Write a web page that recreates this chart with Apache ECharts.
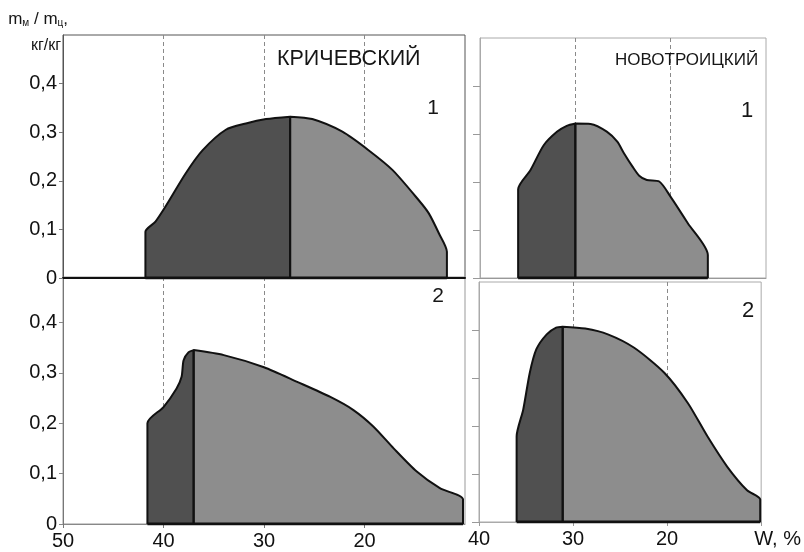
<!DOCTYPE html>
<html>
<head>
<meta charset="utf-8">
<script src="https://cdn.jsdelivr.net/npm/echarts@6/dist/echarts.min.js"></script>
<style>
  html, body { margin: 0; padding: 0; background: #fff; }
  #chart { width: 804px; height: 552px; }
</style>
</head>
<body>
<div id="chart"></div>
<script>
// Moisture W, % (x) versus m_м / m_ц ratio (y); each profile is split into a
// dark (left) part and a light (right) part at the peak.

// Кричевский, curve 1
const krich1Dark = [[41.8, 0], [41.8, 0.095], [40.8, 0.116], [39.8, 0.147], [37.8, 0.215], [36.1, 0.263],
  [33.8, 0.305], [31.8, 0.318], [29.8, 0.327], [27.4, 0.332], [27.4, 0]];
const krich1Light = [[27.4, 0], [27.4, 0.332], [25.2, 0.327], [22.2, 0.301], [19.6, 0.263], [17.2, 0.222],
  [14.6, 0.160], [13.6, 0.133], [12.6, 0.092], [11.8, 0.054], [11.8, 0]];

// Кричевский, curve 2
const krich2Dark = [[41.6, 0], [41.6, 0.200], [40.0, 0.232], [38.7, 0.269], [38.2, 0.292], [38.0, 0.325],
  [37.5, 0.341], [37.0, 0.345], [37.0, 0]];
const krich2Light = [[37.0, 0], [37.0, 0.345], [34.0, 0.335], [30.0, 0.311], [26.7, 0.282], [23.4, 0.252],
  [21.1, 0.226], [19.1, 0.193], [17.1, 0.150], [14.8, 0.104], [12.5, 0.071], [10.2, 0.049], [10.2, 0]];

// Новотроицкий, curve 1
const novo1Dark = [[36.0, 0], [36.0, 0.185], [34.7, 0.225], [33.3, 0.277], [31.9, 0.305], [30.9, 0.317],
  [30.0, 0.322], [30.0, 0]];
const novo1Light = [[30.0, 0], [30.0, 0.322], [28.4, 0.321], [26.7, 0.305], [25.6, 0.284], [24.9, 0.260],
  [24.0, 0.232], [23.3, 0.213], [22.5, 0.204], [21.2, 0.201], [20.0, 0.169], [18.2, 0.114], [16.1, 0.048], [16.1, 0]];

// Новотроицкий, curve 2
const novo2Dark = [[36.0, 0], [36.0, 0.178], [35.3, 0.234], [34.6, 0.311], [33.9, 0.360], [32.8, 0.391],
  [31.8, 0.405], [31.1, 0.407], [31.1, 0]];
const novo2Light = [[31.1, 0], [31.1, 0.407], [28.7, 0.403], [26.3, 0.391], [23.5, 0.363], [20.3, 0.311],
  [17.8, 0.248], [15.7, 0.178], [13.6, 0.115], [11.5, 0.066], [10.1, 0.047], [10.1, 0]];

const ratioTicks = [0, 0.1, 0.2, 0.3, 0.4];
const leftMoistureTicks = [50, 40, 30, 20];
const rightMoistureTicks = [40, 30, 20, 10];
const moistureUnit = 'W, %';

const FONT = '"Liberation Sans", Arial, sans-serif';
const DARK_FILL = '#505050';
const LIGHT_FILL = '#8d8d8d';

const commaNum = v => String(v).replace('.', ',');

function xAxisFor(gridIndex, min, max, opts) {
  return Object.assign({
    type: 'value', gridIndex, min, max, interval: 10, inverse: true,
    axisLine: { show: true, lineStyle: { color: '#999', width: 1 } },
    axisTick: { show: false },
    axisLabel: { show: false },
    splitLine: {
      show: true, showMinLine: false, showMaxLine: false,
      lineStyle: { color: '#8a8a8a', width: 1, type: [4, 3] }
    }
  }, opts);
}

function yAxisFor(gridIndex, max, opts) {
  return Object.assign({
    type: 'value', gridIndex, min: 0, max, interval: 0.1,
    axisLine: { show: true, lineStyle: { color: '#aaa', width: 1 } },
    axisTick: { show: true, inside: false, length: 7, customValues: ratioTicks, lineStyle: { color: '#999' } },
    axisLabel: { show: false },
    splitLine: { show: false }
  }, opts);
}

const leftYLabel = {
  show: true, customValues: ratioTicks, formatter: commaNum, margin: 6,
  fontSize: 20, fontFamily: FONT, color: '#111'
};

function profileSeries(axisIndex, dark, light) {
  const common = {
    type: 'line', xAxisIndex: axisIndex, yAxisIndex: axisIndex,
    smooth: 0.25, symbol: 'none', silent: true,
    lineStyle: { color: '#111', width: 2 }
  };
  return [
    Object.assign({}, common, { data: dark, areaStyle: { color: DARK_FILL, opacity: 1 }, z: 3 }),
    Object.assign({}, common, { data: light, areaStyle: { color: LIGHT_FILL, opacity: 1 }, z: 3 }),
    {
      type: 'line', xAxisIndex: axisIndex, yAxisIndex: axisIndex, symbol: 'none', silent: true,
      data: [[dark[0][0], 0], [light[light.length - 1][0], 0]],
      lineStyle: { color: '#111', width: 3 }, z: 4
    }
  ];
}

function label(text, x, y, size, align) {
  return {
    type: 'text', x, y, z: 20,
    style: {
      text, fontSize: size, fontFamily: FONT, fill: '#161616',
      align: align || 'center', verticalAlign: 'middle',
      textAlign: align || 'center', textVerticalAlign: 'middle'
    }
  };
}

const chart = echarts.init(document.getElementById('chart'), null, { renderer: 'canvas' });

chart.setOption({
  animation: false,
  backgroundColor: '#fff',
  grid: [
    { left: 63, top: 35, width: 402, height: 243, show: true, borderColor: '#555', borderWidth: 1 },
    { left: 63, top: 277, width: 402, height: 247, show: true, borderColor: '#999', borderWidth: 1 },
    { left: 480, top: 38, width: 286, height: 240, show: true, borderColor: '#aaa', borderWidth: 1 },
    { left: 479, top: 282, width: 286, height: 240, show: true, borderColor: '#aaa', borderWidth: 1 }
  ],
  xAxis: [
    xAxisFor(0, 10, 50, { axisLine: { show: true, lineStyle: { color: '#111', width: 2 } } }),
    xAxisFor(1, 10, 50, {
      axisLine: { show: true, lineStyle: { color: '#888', width: 1 } },
      axisTick: { show: true, length: 4, customValues: leftMoistureTicks, lineStyle: { color: '#777' } },
      axisLabel: {
        show: true, customValues: leftMoistureTicks, margin: 7,
        fontSize: 20, fontFamily: FONT, color: '#111'
      }
    }),
    xAxisFor(2, 10, 40, {}),
    xAxisFor(3, 10, 40, {
      axisLine: { show: true, lineStyle: { color: '#aaa', width: 1 } },
      axisTick: { show: true, length: 4, customValues: rightMoistureTicks, lineStyle: { color: '#999' } },
      axisLabel: {
        show: true, customValues: rightMoistureTicks, margin: 7,
        fontSize: 20, fontFamily: FONT, color: '#111',
        formatter: v => (v === 10 ? '{w|' + moistureUnit + '}' : String(v)),
        rich: { w: { fontSize: 20, fontFamily: FONT, color: '#111', padding: [0, 0, 0, 33] } }
      }
    })
  ],
  yAxis: [
    yAxisFor(0, 0.5, {
      axisLine: { show: true, lineStyle: { color: '#555', width: 1 } },
      axisTick: { show: true, length: 4, customValues: ratioTicks, lineStyle: { color: '#777' } },
      axisLabel: leftYLabel
    }),
    yAxisFor(1, 0.49, {
      axisLine: { show: true, lineStyle: { color: '#777', width: 1 } },
      axisTick: { show: true, length: 4, customValues: ratioTicks, lineStyle: { color: '#888' } },
      axisLabel: leftYLabel
    }),
    yAxisFor(2, 0.5, {}),
    yAxisFor(3, 0.5, {})
  ],
  series: [
    ...profileSeries(0, krich1Dark, krich1Light),
    ...profileSeries(1, krich2Dark, krich2Light),
    ...profileSeries(2, novo1Dark, novo1Light),
    ...profileSeries(3, novo2Dark, novo2Light)
  ],
  graphic: [
    label('КРИЧЕВСКИЙ', 277, 59, 21.5, 'left'),
    label('НОВОТРОИЦКИЙ', 615, 60, 17, 'left'),
    label('1', 433, 108, 21),
    label('1', 747, 111, 22),
    label('2', 438, 296, 21),
    label('2', 748, 311, 22),
    {
      type: 'text', x: 68, y: 28, z: 20,
      style: {
        text: '{m|m}{s|м}{m| / m}{s|ц}{m|,}',
        align: 'right', textAlign: 'right', verticalAlign: 'bottom', textVerticalAlign: 'bottom',
        rich: {
          m: { fontSize: 17, lineHeight: 19, fontFamily: FONT, fill: '#161616', color: '#161616', verticalAlign: 'bottom' },
          s: { fontSize: 10, lineHeight: 10, fontFamily: FONT, fill: '#161616', color: '#161616', verticalAlign: 'bottom' }
        }
      }
    },
    {
      type: 'text', x: 61, y: 46, z: 20,
      style: {
        text: 'кг/кг', fontSize: 16, fontFamily: FONT, fill: '#161616',
        align: 'right', textAlign: 'right', verticalAlign: 'middle', textVerticalAlign: 'middle'
      }
    }
  ]
});
</script>
</body>
</html>
